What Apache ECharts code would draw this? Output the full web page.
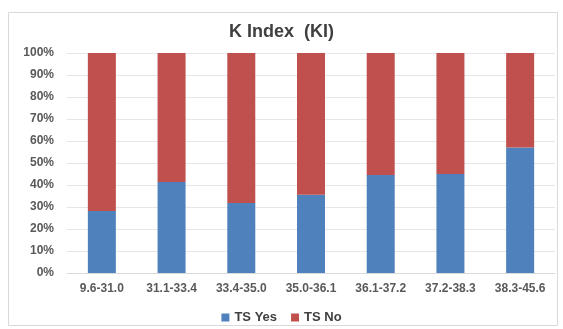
<!DOCTYPE html>
<html><head><meta charset="utf-8">
<script src="https://cdn.jsdelivr.net/npm/echarts@6/dist/echarts.min.js"></script>
<style>html,body{margin:0;padding:0;background:#fff}#c{width:563px;height:329px}</style>
</head><body><div id="c"></div>
<script>
const categories = ['9.6-31.0','31.1-33.4','33.4-35.0','35.0-36.1','36.1-37.2','37.2-38.3','38.3-45.6'];
const tsYes = [28.2, 41.4, 31.8, 35.6, 44.5, 45.0, 57.0];
const tsNo = tsYes.map(v => +(100 - v).toFixed(1));
const yTicks = [0,10,20,30,40,50,60,70,80,90,100];

const chart = echarts.init(document.getElementById('c'), null, {renderer:'canvas'});
const font = 'Liberation Sans, Arial, sans-serif';
chart.setOption({
  animation:false,
  backgroundColor:'#fff',
  graphic:[{type:'rect', shape:{x:8.5,y:12.5,width:549,height:313}, style:{fill:'none', stroke:'#d9d9d9', lineWidth:1}, z:-1}],
  title:{text:'K Index  (KI)', left:'center', top:18, textStyle:{fontFamily:font, fontWeight:'bold', fontSize:18, color:'#404040'}},
  grid:{left:67, right:8, top:53, bottom:56},
  legend:{bottom:0, left:'center', itemWidth:8, itemHeight:8, itemGap:14, icon:'rect',
    textStyle:{fontFamily:font, fontSize:13, color:'#404040', fontWeight:'bold'}, data:['TS Yes','TS No']},
  xAxis:{type:'category', data:categories,
    axisLine:{lineStyle:{color:'#d9d9d9'}}, axisTick:{show:false},
    axisLabel:{fontFamily:font, fontWeight:'bold', fontSize:12, color:'#595959', margin:10, interval:0}},
  yAxis:{type:'value', min:0, max:100, interval:10,
    axisLabel:{formatter: v => yTicks.includes(v) ? v + '%' : '', fontFamily:font, fontWeight:'bold', fontSize:12, color:'#595959', margin:13},
    splitLine:{lineStyle:{color:'#e6e6e6'}}, axisLine:{show:false}, axisTick:{show:false}},
  series:[
    {name:'TS Yes', type:'bar', stack:'a', data:tsYes, barWidth:28, itemStyle:{color:'#4F81BD'}},
    {name:'TS No', type:'bar', stack:'a', data:tsNo, barWidth:28, itemStyle:{color:'#C0504D'}}
  ]
});
</script></body></html>
